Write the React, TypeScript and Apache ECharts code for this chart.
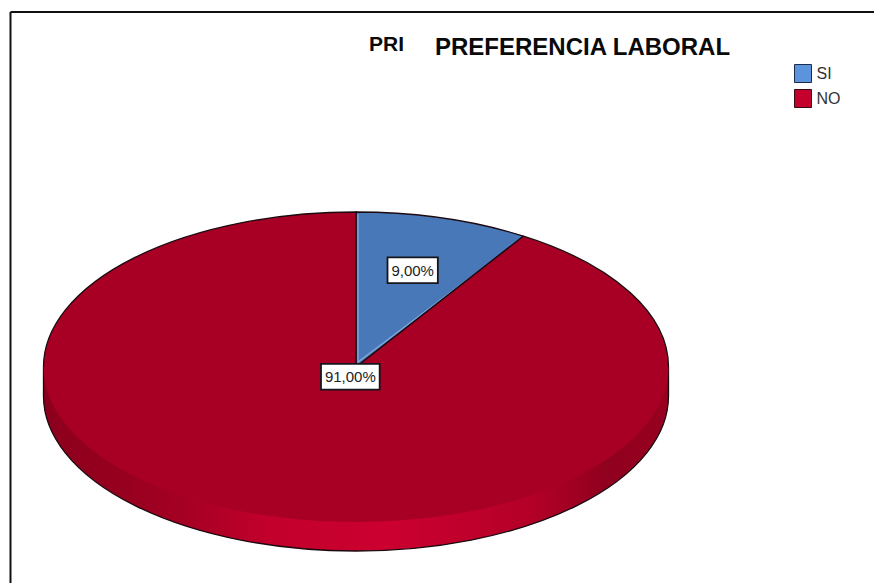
import React, { useEffect, useRef } from "react";
import * as echarts from "echarts";

const categories = ["SI", "NO"];
const values = [9, 91];
const chartTitle = "PREFERENCIA LABORAL";
const clippedTitle = "PRI";

const CX = 356;
const CY = 367;
const RX = 312.5;
const RY = 155;
const DEPTH = 29;
const EDGE = "#1c0a10";
const FONT = "Liberation Sans, Arial, sans-serif";
const total = values.reduce((a, b) => a + b, 0);

const pt = (deg: number, f = 1) => {
  const t = (deg * Math.PI) / 180;
  return [CX + RX * f * Math.sin(t), CY - RY * f * Math.cos(t)];
};

const wedgePath = (a0: number, a1: number) => {
  const [x0, y0] = pt(a0);
  const [x1, y1] = pt(a1);
  const large = a1 - a0 > 180 ? 1 : 0;
  return `M${CX} ${CY}L${x0} ${y0}A${RX} ${RY} 0 ${large} 1 ${x1} ${y1}Z`;
};

// outline of a wedge without the part of its rim that meets the side wall
const upperOutline = (a0: number, a1: number) => {
  const [x0, y0] = pt(a0);
  const [x1, y1] = pt(a1);
  if (a1 <= 90) {
    return `M${x1} ${y1}L${CX} ${CY}L${x0} ${y0}A${RX} ${RY} 0 0 1 ${x1} ${y1}`;
  }
  const [rx, ry] = pt(90);
  const [lx, ly] = pt(270);
  return `M${CX} ${CY}L${x0} ${y0}A${RX} ${RY} 0 0 1 ${rx} ${ry}M${lx} ${ly}A${RX} ${RY} 0 0 1 ${x1} ${y1}L${CX} ${CY}`;
};

const sidePath = `M${CX - RX} ${CY}L${CX - RX} ${CY + DEPTH}A${RX} ${RY} 0 0 0 ${CX + RX} ${CY + DEPTH}L${CX + RX} ${CY}Z`;
const sideOutline = `M${CX - RX} ${CY}L${CX - RX} ${CY + DEPTH}A${RX} ${RY} 0 0 0 ${CX + RX} ${CY + DEPTH}L${CX + RX} ${CY}`;

const sideFill = new echarts.graphic.LinearGradient(0, 0, 1, 0, [
  { offset: 0, color: "#8c001d" },
  { offset: 0.12, color: "#96001f" },
  { offset: 0.24, color: "#a80024" },
  { offset: 0.36, color: "#c2002b" },
  { offset: 0.55, color: "#cc0030" },
  { offset: 0.78, color: "#b40027" },
  { offset: 0.9, color: "#90001f" },
  { offset: 1, color: "#98001f" },
]);

const makeRender = (index: number, fill: string, highlight: string | null, labelF: number) =>
  (_params: any, api: any) => {
    const before = values.slice(0, index).reduce((a, b) => a + b, 0);
    const v = api.value(0);
    const a0 = (before / total) * 360;
    const a1 = ((before + v) / total) * 360;
    const [lx, ly] = pt((a0 + a1) / 2, labelF);
    const children: any[] = [];
    if (index === 1) {
      children.push({
        type: "path",
        shape: { pathData: sidePath },
        style: { fill: sideFill, stroke: null },
      });
      children.push({
        type: "path",
        shape: { pathData: sideOutline },
        style: { fill: null, stroke: EDGE, lineWidth: 1.3 },
      });
    }
    children.push({
      type: "path",
      shape: { pathData: wedgePath(a0, a1) },
      style: { fill, stroke: null },
    });
    if (highlight) {
      const [sx, sy] = pt(a0, 0.985);
      const [ex, ey] = pt(a1, 0.97);
      children.push({
        type: "path",
        shape: { pathData: `M${sx + 2} ${sy}L${CX + 2} ${CY - 5}L${ex - 1} ${ey + 2}` },
        style: { fill: null, stroke: highlight, lineWidth: 1.5 },
      });
    }
    children.push({
      type: "path",
      shape: { pathData: upperOutline(a0, a1) },
      style: { fill: null, stroke: EDGE, lineWidth: 1.3 },
    });
    children.push({
      type: "text",
      style: {
        text: v.toFixed(2).replace(".", ",") + "%",
        x: lx,
        y: ly,
        align: "center",
        verticalAlign: "middle",
        fill: "#222222",
        font: `15px ${FONT}`,
        backgroundColor: "#ffffff",
        borderColor: "#15151c",
        borderWidth: 1.8,
        padding: [5, 3, 4, 3],
      },
    });
    return { type: "group", children };
  };

export default function App() {
  const ref = useRef<HTMLDivElement>(null);
  useEffect(() => {
    document.body.style.margin = "0";
    const chart = echarts.init(ref.current!, null, { renderer: "svg" });
    chart.setOption({
      animation: false,
      backgroundColor: "#ffffff",
      title: {
        text: chartTitle,
        left: 435,
        top: 34,
        padding: 0,
        textStyle: { fontFamily: FONT, fontSize: 24, fontWeight: "bold", color: "#0a0a0a" },
      },
      legend: {
        orient: "vertical",
        left: 794,
        top: 64,
        padding: 0,
        itemWidth: 17,
        itemHeight: 18,
        itemGap: 6,
        selectedMode: false,
        data: [
          { name: categories[0], icon: "rect", itemStyle: { color: "#5b93dc", borderColor: "#1d2c4a", borderWidth: 1 } },
          { name: categories[1], icon: "rect", itemStyle: { color: "#c4002c", borderColor: "#3a0a14", borderWidth: 1 } },
        ],
        textStyle: { fontFamily: FONT, fontSize: 16, color: "#333333" },
      },
      graphic: [
        { type: "line", shape: { x1: 10.5, y1: 12, x2: 874, y2: 12 }, style: { stroke: "#111111", lineWidth: 2 } },
        { type: "line", shape: { x1: 10.5, y1: 12, x2: 10.5, y2: 583 }, style: { stroke: "#111111", lineWidth: 2 } },
        {
          type: "text",
          x: 369,
          y: 33,
          style: { text: clippedTitle, fill: "#0a0a0a", font: `bold 21px ${FONT}` },
        },
      ],
      series: [
        {
          type: "custom",
          name: categories[0],
          coordinateSystem: "none",
          itemStyle: { color: "#5b93dc" },
          renderItem: makeRender(0, "#4878b7", "#7ea5d8", 0.65),
          data: [[values[0]]],
        },
        {
          type: "custom",
          name: categories[1],
          coordinateSystem: "none",
          itemStyle: { color: "#c4002c" },
          renderItem: makeRender(1, "#a80024", null, 0.065),
          data: [[values[1]]],
        },
      ],
    });
    return () => chart.dispose();
  }, []);
  return <div ref={ref} style={{ width: 874, height: 583 }} />;
}
